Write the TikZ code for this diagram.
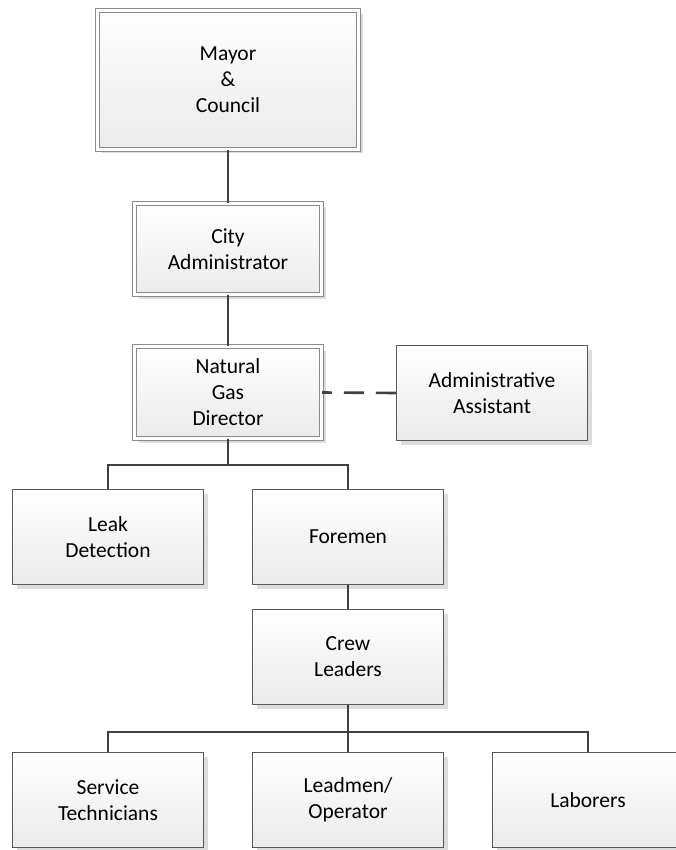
\documentclass[tikz,border=0pt]{standalone}
\usepackage{fontspec}
\setmainfont{Carlito}
\usetikzlibrary{shadows}
\definecolor{lineC}{HTML}{404040}
\definecolor{boxB}{HTML}{5A5A5A}
\definecolor{dblB}{HTML}{8C8C8C}
\definecolor{shadowC}{HTML}{DCDCDC}
\begin{document}
\begin{tikzpicture}[x=1pt,y=-1pt,
 box/.style={rectangle, draw=boxB, line width=1.3pt, top color=white, bottom color=black!8,
   minimum width=191pt, minimum height=95pt, inner sep=0pt, align=center,
   font=\fontsize{21.5}{26}\selectfont, text=black,
   drop shadow={shadow xshift=4pt, shadow yshift=-4pt, fill=shadowC, opacity=1}},
 dbox/.style={box, draw=dblB, line width=1.1pt, double=white, double distance=3.2pt,
   minimum width=187pt, minimum height=91pt},
 conn/.style={draw=lineC, line width=2.6pt},
]
\useasboundingbox (0,0) rectangle (676,850);
\node[dbox, minimum width=261pt, minimum height=139pt] (mayor) at (228,80) {Mayor\\\&\\Council};
\node[dbox] (city) at (228,249) {City\\Administrator};
\node[dbox, minimum height=92pt] (ngd) at (228,392.5) {Natural\\Gas\\Director};
\node[box] (admin) at (492,393) {Administrative\\Assistant};
\node[box] (leak) at (108,537) {Leak\\Detection};
\node[box] (fore) at (348,537) {Foremen};
\node[box] (crew) at (348,657) {Crew\\Leaders};
\node[box] (serv) at (108,800) {Service\\Technicians};
\node[box] (lead) at (348,800) {Leadmen/\\Operator};
\node[box] (lab) at (588,800) {Laborers};
\coordinate (bus1) at (228,465);
\coordinate (bus2) at (348,732);
\draw[conn] (mayor.south) -- (city.north);
\draw[conn] (city.south) -- (ngd.north);
\draw[conn, dash pattern=on 20pt off 12pt] (admin.west) -- (ngd.east);
\draw[conn] (ngd.south) -- (bus1);
\draw[conn] (leak.north) |- (bus1) -| (fore.north);
\draw[conn] (fore.south) -- (crew.north);
\draw[conn] (crew.south) -- (bus2);
\draw[conn] (serv.north) |- (bus2) -| (lab.north);
\draw[conn] (bus2) -- (lead.north);
\end{tikzpicture}
\end{document}
